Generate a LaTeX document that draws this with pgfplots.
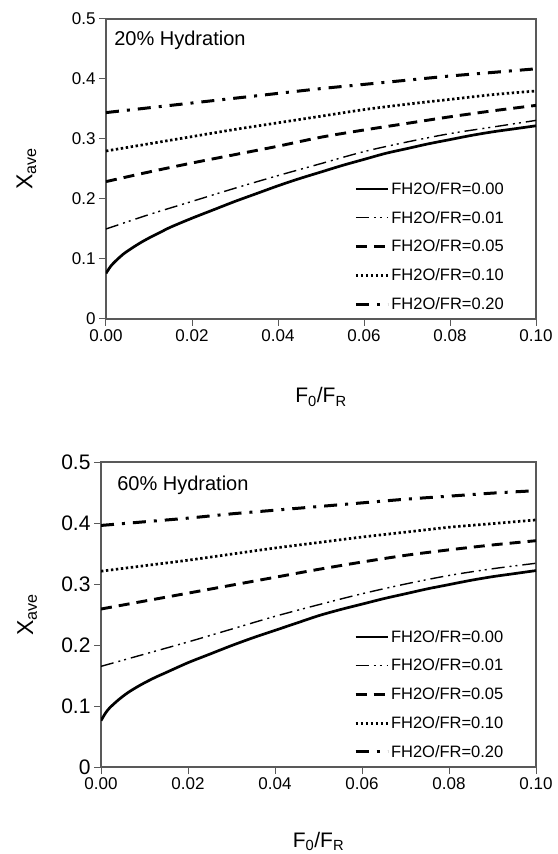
\documentclass[border=0pt]{standalone}
\usepackage{fontspec}
\setmainfont{Liberation Sans}
\usepackage{pgfplots}
\pgfplotsset{compat=1.18}

% line styles for the five water ratios
\tikzset{
  s00/.style={black, line width=2.7pt},
  s01/.style={black, line width=1.4pt, dash pattern=on 13pt off 5pt on 2pt off 4pt on 2pt off 5pt},
  s05/.style={black, line width=2.9pt, dash pattern=on 11pt off 7pt},
  s10/.style={black, line width=2.7pt, dash pattern=on 2.4pt off 2.6pt},
  s20/.style={black, line width=3pt, dash pattern=on 13pt off 8pt on 3pt off 8pt},
}

\pgfplotsset{
  hyd/.style={
    scale only axis,
    xmin=0, xmax=0.1, ymin=0, ymax=0.5,
    xtick={0,0.02,0.04,0.06,0.08,0.1},
    xticklabels={0.00,0.02,0.04,0.06,0.08,0.10},
    ytick={0,0.1,0.2,0.3,0.4,0.5},
    yticklabels={0,0.1,0.2,0.3,0.4,0.5},
    tick align=outside, tick pos=left,
    major tick length=7pt,
    axis line style={black!65, line width=1.2pt},
    every tick/.style={black!65, line width=1pt},
    xticklabel style={font=\fontsize{17}{20}\selectfont},
    xlabel={F\textsubscript{0}/F\textsubscript{R}},
    ylabel={X\textsubscript{ave}},
    xlabel style={font=\fontsize{21}{24}\selectfont},
    ylabel style={font=\fontsize{23}{26}\selectfont},
    legend cell align=left,
    legend style={draw=none, fill=none, font=\fontsize{16.5}{19}\selectfont,
      anchor=south east, row sep=11.3pt, inner sep=0pt},
    legend image code/.code={\draw[##1] (0pt,0pt) -- (32pt,0pt);},
  },
}

\begin{document}
\begin{tikzpicture}
% ---- 20% hydration ----
\begin{axis}[hyd,
  at={(106pt,535pt)}, anchor=south west,
  width=430pt, height=300pt,
  yticklabel style={font=\fontsize{17}{20}\selectfont},
  every axis y label/.append style={at={(axis description cs:-0.185,0.5)}, anchor=center},
  every axis x label/.append style={at={(axis description cs:0.5,-0.26)}, anchor=center},
  legend style={at={(rel axis cs:0.93,0.02)}},
]
\addplot[s00, smooth] coordinates {
 (0,0.076) (0.001,0.087) (0.002,0.095) (0.004,0.108) (0.006,0.118) (0.008,0.127)
 (0.010,0.135) (0.0125,0.144) (0.015,0.153) (0.02,0.168) (0.025,0.182) (0.03,0.196)
 (0.035,0.209) (0.04,0.222) (0.045,0.234) (0.05,0.245) (0.055,0.256) (0.06,0.266)
 (0.065,0.276) (0.07,0.284) (0.075,0.292) (0.08,0.299) (0.085,0.306) (0.09,0.312)
 (0.095,0.317) (0.1,0.322)};
\addlegendentry{FH2O/FR=0.00}
\addplot[s01, smooth] coordinates {
 (0,0.150) (0.01,0.174) (0.02,0.196) (0.03,0.218) (0.04,0.239) (0.05,0.259)
 (0.06,0.279) (0.07,0.295) (0.08,0.309) (0.09,0.320) (0.1,0.331)};
\addlegendentry{FH2O/FR=0.01}
\addplot[s05, smooth] coordinates {
 (0,0.229) (0.01,0.245) (0.02,0.260) (0.03,0.274) (0.04,0.288) (0.05,0.303)
 (0.06,0.315) (0.07,0.326) (0.08,0.337) (0.09,0.347) (0.1,0.356)};
\addlegendentry{FH2O/FR=0.05}
\addplot[s10, smooth] coordinates {
 (0,0.280) (0.01,0.292) (0.02,0.304) (0.03,0.316) (0.04,0.327) (0.05,0.338)
 (0.06,0.349) (0.07,0.358) (0.08,0.366) (0.09,0.374) (0.1,0.380)};
\addlegendentry{FH2O/FR=0.10}
\addplot[s20, smooth] coordinates {
 (0,0.344) (0.01,0.352) (0.02,0.360) (0.03,0.368) (0.04,0.376) (0.05,0.384)
 (0.06,0.391) (0.07,0.398) (0.08,0.405) (0.09,0.411) (0.1,0.417)};
\addlegendentry{FH2O/FR=0.20}
\node[anchor=base west, font=\fontsize{20}{23}\selectfont, inner sep=0pt]
  at (rel axis cs:0.019,0.91) {20\% Hydration};
\end{axis}

% ---- 60% hydration ----
\begin{axis}[hyd,
  at={(101pt,87pt)}, anchor=south west,
  width=435pt, height=305pt,
  yticklabel style={font=\fontsize{21}{24}\selectfont},
  every axis y label/.append style={at={(axis description cs:-0.17,0.5)}, anchor=center},
  every axis x label/.append style={at={(axis description cs:0.5,-0.245)}, anchor=center},
  legend style={at={(rel axis cs:0.93,0.02)}},
]
\addplot[s00, smooth] coordinates {
 (0,0.076) (0.001,0.088) (0.002,0.097) (0.004,0.110) (0.006,0.121) (0.008,0.130)
 (0.010,0.138) (0.0125,0.147) (0.015,0.155) (0.02,0.171) (0.025,0.185) (0.03,0.199)
 (0.035,0.212) (0.04,0.224) (0.045,0.236) (0.05,0.248) (0.055,0.258) (0.06,0.267)
 (0.065,0.276) (0.07,0.284) (0.075,0.292) (0.08,0.299) (0.085,0.306) (0.09,0.312)
 (0.095,0.317) (0.1,0.322)};
\addlegendentry{FH2O/FR=0.00}
\addplot[s01, smooth] coordinates {
 (0,0.165) (0.01,0.185) (0.02,0.205) (0.03,0.226) (0.04,0.247) (0.05,0.266)
 (0.06,0.284) (0.07,0.300) (0.08,0.314) (0.09,0.325) (0.1,0.334)};
\addlegendentry{FH2O/FR=0.01}
\addplot[s05, smooth] coordinates {
 (0,0.259) (0.01,0.272) (0.02,0.285) (0.03,0.298) (0.04,0.311) (0.05,0.324)
 (0.06,0.336) (0.07,0.347) (0.08,0.356) (0.09,0.364) (0.1,0.371)};
\addlegendentry{FH2O/FR=0.05}
\addplot[s10, smooth] coordinates {
 (0,0.321) (0.01,0.330) (0.02,0.339) (0.03,0.349) (0.04,0.359) (0.05,0.368)
 (0.06,0.377) (0.07,0.385) (0.08,0.393) (0.09,0.399) (0.1,0.405)};
\addlegendentry{FH2O/FR=0.10}
\addplot[s20, smooth] coordinates {
 (0,0.396) (0.01,0.402) (0.02,0.408) (0.03,0.415) (0.04,0.421) (0.05,0.427)
 (0.06,0.433) (0.07,0.439) (0.08,0.444) (0.09,0.449) (0.1,0.453)};
\addlegendentry{FH2O/FR=0.20}
\node[anchor=base west, font=\fontsize{20}{23}\selectfont, inner sep=0pt]
  at (rel axis cs:0.037,0.908) {60\% Hydration};
\end{axis}

\pgfresetboundingbox
\useasboundingbox (0,0) rectangle (557pt,854pt);
\end{tikzpicture}
\end{document}
